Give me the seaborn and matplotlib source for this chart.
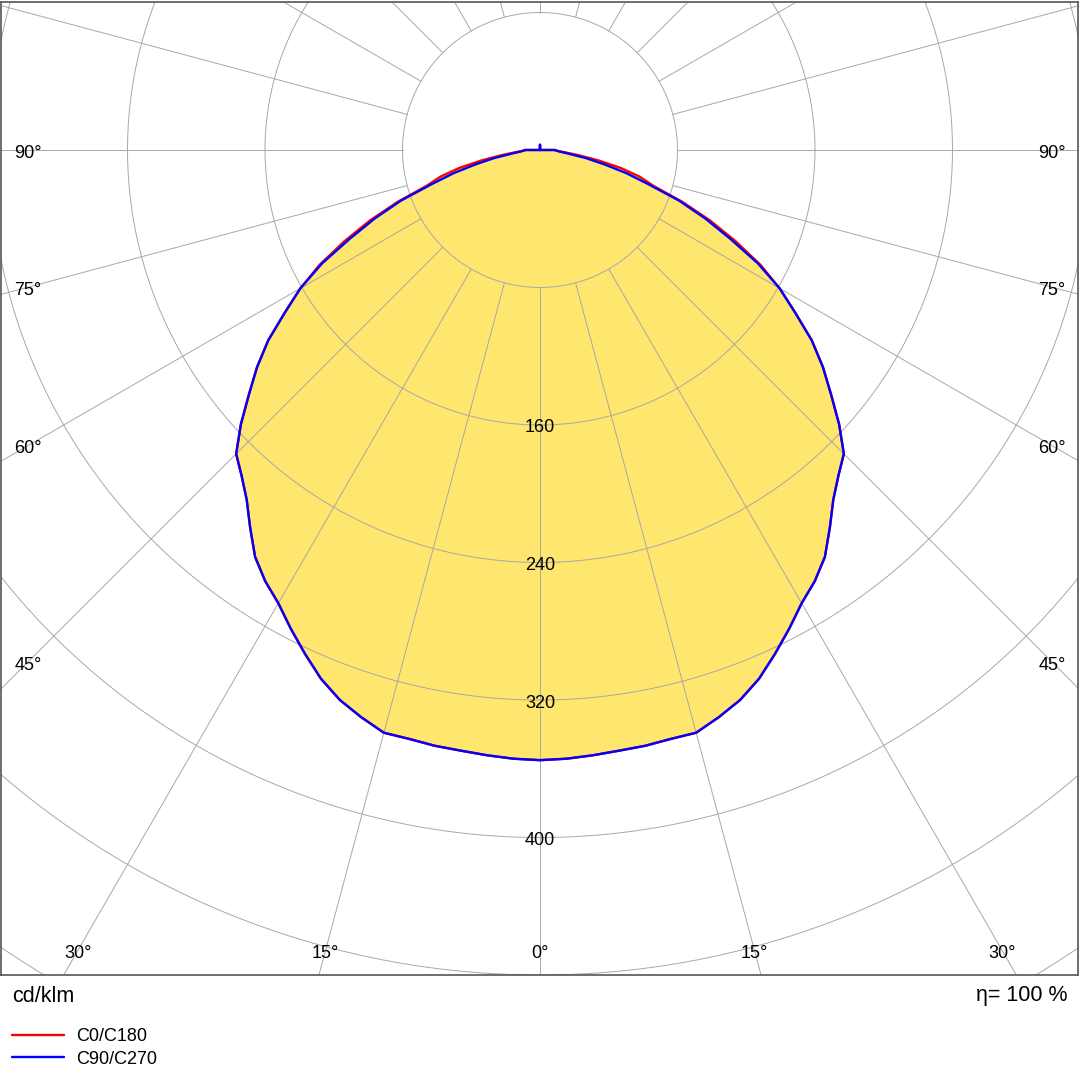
import numpy as np
import pandas as pd
import seaborn as sns
import matplotlib.pyplot as plt

# Half profile: gamma angle from nadir (deg) and intensity (cd/klm)
gamma = [0, 2.5, 5, 7.5, 10, 12.5, 15, 17.5, 20, 22.5, 25, 27.5, 30, 32.5, 35,
         37.5, 40, 42.5, 45, 47.5, 50, 52.5, 55, 57.5, 60, 62.5, 65, 67.5, 70,
         72.5, 75, 77.5, 80, 82.5, 85, 87.5, 90, 95, 105, 120, 135, 150, 165,
         175, 180]
c0_c180 = [355, 354.5, 353.5, 352.5, 352, 351, 351, 346, 340.5, 333, 323.5,
           314, 304.5, 297.5, 289, 277, 265.5, 257, 250, 236, 221, 207.5, 193,
           176, 161, 144.5, 125.5, 107, 88, 69, 60, 48, 34, 22, 14, 10, 9, 0, 0,
           0, 0, 0, 0, 0, 3]
c90_c270 = [355, 354.5, 353.5, 352.5, 352, 351, 351, 346, 340.5, 333, 323.5,
            314, 304.5, 297.5, 289, 277, 265.5, 257, 250, 236, 221, 207.5, 193,
            176, 161, 143, 122, 104, 86, 66, 52, 38, 27, 17, 12, 9.5, 8.5, 0, 0,
            0, 0, 0, 0, 0, 3]
rings = [80, 160, 240, 320, 400, 480, 560, 640]
ring_labels = [160, 240, 320, 400]
side_angles = [45, 60, 75, 90]
bottom_angles = [0, 15, 30]

yellow = '#FFE66E'
grid_col = '#A8A8A8'
k = 137.5 / 80  # pixels per cd/klm
drop = 3 / k    # small downward nudge for labels


def full_curve(values):
    ang = [-a for a in gamma[:0:-1]] + gamma
    val = values[:0:-1] + values
    rad = np.deg2rad(ang)
    v = np.array(val, dtype=float)
    return pd.DataFrame({'x': v * np.sin(rad), 'y': -v * np.cos(rad)})


df0 = full_curve(c0_c180)
df90 = full_curve(c90_c270)

sns.set_style('white')
plt.rcParams['font.family'] = ['Liberation Sans', 'DejaVu Sans']
plt.rcParams['text.color'] = 'black'

fig = plt.figure(figsize=(10.8, 10.8), dpi=100)
ax = fig.add_axes([1 / 1080, 105 / 1080, 1077 / 1080, 973 / 1080])
ax.set_xlim(-539 / k, 538 / k)
ax.set_ylim(-825 / k, 148 / k)

# filled distribution
ax.fill(df0['x'], df0['y'], color=yellow, lw=0, zorder=1)
ax.fill(df90['x'], df90['y'], color=yellow, lw=0, zorder=1)

# polar grid
t = np.linspace(0, 2 * np.pi, 721)
for r in rings:
    ax.plot(r * np.cos(t), r * np.sin(t), color=grid_col, lw=0.7, zorder=2)
for a in range(0, 360, 15):
    s, c = np.sin(np.deg2rad(a)), np.cos(np.deg2rad(a))
    ax.plot([80 * s, 800 * s], [-80 * c, -800 * c], color=grid_col, lw=0.7, zorder=2)

sns.lineplot(data=df0, x='x', y='y', sort=False, estimator=None, color='#FF0000',
             lw=1.7, label='C0/C180', ax=ax, zorder=3)
sns.lineplot(data=df90, x='x', y='y', sort=False, estimator=None, color='#0000FF',
             lw=1.7, label='C90/C270', ax=ax, zorder=4)
handles, labels = ax.get_legend_handles_labels()
ax.get_legend().remove()

# intensity labels on the 0 deg axis
for r in ring_labels:
    ax.text(0, -r - drop, str(r), ha='center', va='center', fontsize=13, zorder=5)

# angle labels along the frame
x0, x1 = ax.get_xlim()
y0, y1 = ax.get_ylim()
inset = 26 / k
for a in side_angles:
    xs = x1 - inset
    ys = -xs / np.tan(np.deg2rad(a)) - drop
    ax.text(xs, ys, f'{a}°', ha='center', va='center', fontsize=13, zorder=5)
    ax.text(-xs, ys, f'{a}°', ha='center', va='center', fontsize=13, zorder=5)
for a in bottom_angles:
    yb = y0 + 25 / k
    xb = -yb * np.tan(np.deg2rad(a))
    ax.text(xb, yb - drop, f'{a}°', ha='center', va='center', fontsize=13, zorder=5)
    if a:
        ax.text(-xb, yb - drop, f'{a}°', ha='center', va='center', fontsize=13, zorder=5)

ax.set_xticks([])
ax.set_yticks([])
ax.set_xlabel('')
ax.set_ylabel('')
for sp in ax.spines.values():
    sp.set_visible(True)
    sp.set_color('#555555')
    sp.set_linewidth(1.2)

fig.text(12 / 1080, 1 - 996 / 1080, 'cd/klm', ha='left', va='center', fontsize=15.5)
fig.text(1068 / 1080, 1 - 996 / 1080, 'η= 100 %', ha='right', va='center', fontsize=15.5)

fig.legend(handles, labels, loc='upper left', bbox_to_anchor=(12 / 1080, 1 - 1028 / 1080),
           frameon=False, fontsize=13, handlelength=2.9, handletextpad=0.65,
           labelspacing=0.32, borderpad=0, borderaxespad=0)

fig.savefig('out.png', dpi=100)
